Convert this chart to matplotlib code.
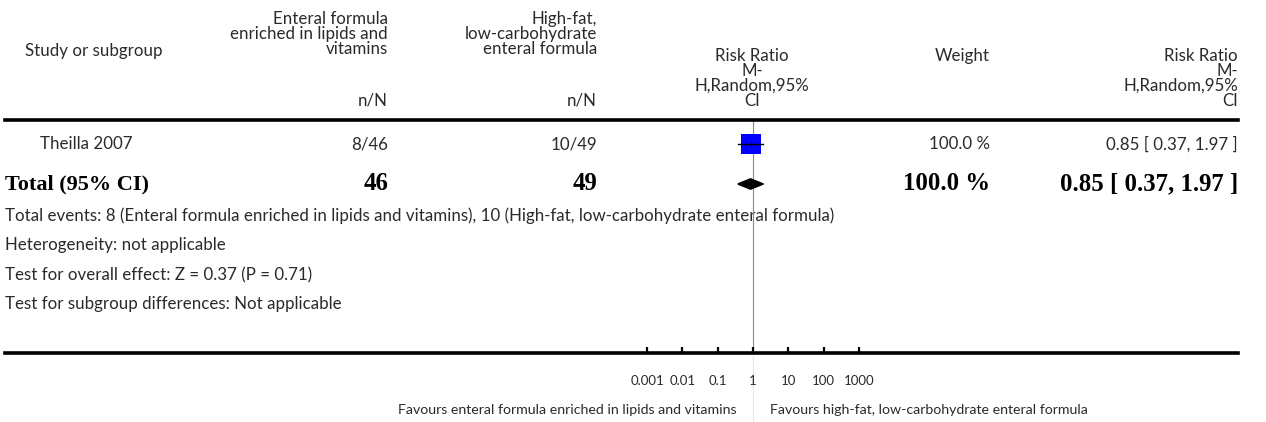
import matplotlib
matplotlib.use("Agg")
import matplotlib.pyplot as plt
import matplotlib.transforms as mtransforms
import numpy as np

# data
studies = ["Theilla 2007"]
exp_events = ["8/46"]
ctrl_events = ["10/49"]
weights = ["100.0 %"]
rr = [0.85]
ci_lo = [0.37]
ci_hi = [1.97]
total_exp = "46"
total_ctrl = "49"
total_weight = "100.0 %"
total_rr = 0.85
total_lo = 0.37
total_hi = 1.97
tick_vals = [0.001, 0.01, 0.1, 1, 10, 100, 1000]
tick_labels = ["0.001", "0.01", "0.1", "1", "10", "100", "1000"]
footnotes = [
    "Total events: 8 (Enteral formula enriched in lipids and vitamins), 10 (High-fat, low-carbohydrate enteral formula)",
    "Heterogeneity: not applicable",
    "Test for overall effect: Z = 0.37 (P = 0.71)",
    "Test for subgroup differences: Not applicable",
]
fav_left = "Favours enteral formula enriched in lipids and vitamins"
fav_right = "Favours high-fat, low-carbohydrate enteral formula"
exp_head = ["Enteral formula", "enriched in lipids and", "vitamins"]
ctrl_head = ["High-fat,", "low-carbohydrate", "enteral formula"]
rr_head = ["Risk Ratio", "M-", "H,Random,95%", "CI"]

W, H = 1266, 422
SANS = "Lato"
SERIF = "Liberation Serif"
TXT = "#2a2a2a"
fs = 12.2
fs_b = 16
fs_n = 17.8
fs_s = 10.2
fs_t = 9.5

fig = plt.figure(figsize=(W / 100, H / 100), dpi=100)
bg = fig.add_axes([0, 0, 1, 1])
bg.set_xlim(0, W)
bg.set_ylim(H, 0)
bg.axis("off")

# forest panel: 1 at x=753px, one decade = 35.3px
x0, x1, ytop, ybot = 5, 1238, 120, 353
dec = 35.3
ax = fig.add_axes([x0 / W, (H - ybot) / H, (x1 - x0) / W, (ybot - ytop) / H])
ax.patch.set_alpha(0)
ax.set_xscale("log")
ax.set_xlim(10 ** ((x0 - 753) / dec), 10 ** ((x1 - 753) / dec))
row_px = 40
ax.set_ylim((ybot - 144) / row_px, (ytop - 144) / row_px)
for s in ["left", "right"]:
    ax.spines[s].set_visible(False)
ax.spines["top"].set_linewidth(2.6)
ax.spines["bottom"].set_linewidth(2.6)
ax.set_yticks([])
ax.set_xticks(tick_vals)
ax.set_xticklabels(tick_labels, fontfamily=SANS, fontsize=fs_t, color=TXT)
ax.xaxis.set_minor_locator(matplotlib.ticker.NullLocator())
ax.tick_params(axis="x", direction="in", length=4.5, width=1.6, pad=16)

ax.axvline(1, color="#8a8a8a", lw=0.8, zorder=1)
bg.plot([753, 753], [356, H], color="#e6e6e6", lw=0.8)

# study rows
for i in range(len(studies)):
    ax.plot([ci_lo[i], ci_hi[i]], [i, i], color="black", lw=1, zorder=4)
    ax.plot(rr[i], i, "s", color="#0000ff", markersize=14.5, markeredgewidth=0, zorder=3)
    ax.plot(rr[i], i, "|", color="black", markersize=4, markeredgewidth=0.8, zorder=5)

# total diamond
ty = len(studies)
ax.fill([total_lo, total_rr, total_hi, total_rr], [ty, ty - 0.13, ty, ty + 0.13],
        color="black", zorder=4)

# table text, x in px, y in rows
tr = mtransforms.blended_transform_factory(bg.transData, ax.transData)
for i in range(len(studies)):
    kw = dict(transform=tr, va="center", fontfamily=SANS, fontsize=fs, color=TXT)
    bg.text(40, i, studies[i], ha="left", **kw)
    bg.text(388, i, exp_events[i], ha="right", **kw)
    bg.text(597, i, ctrl_events[i], ha="right", **kw)
    bg.text(990, i, weights[i], ha="right", **kw)
    bg.text(1238, i, "%.2f [ %.2f, %.2f ]" % (rr[i], ci_lo[i], ci_hi[i]), ha="right", **kw)

kb = dict(transform=tr, va="center", fontfamily=SERIF, fontweight="bold", color="black")
bg.text(5, ty, "Total (95% CI)", ha="left", fontsize=fs_b, **kb)
bg.text(388, ty, total_exp, ha="right", fontsize=fs_n, **kb)
bg.text(597, ty, total_ctrl, ha="right", fontsize=fs_n, **kb)
bg.text(990, ty, total_weight, ha="right", fontsize=fs_n, **kb)
bg.text(1238, ty, "%.2f [ %.2f, %.2f ]" % (total_rr, total_lo, total_hi), ha="right",
        fontsize=fs_n, **kb)

# header
kh = dict(va="center", fontfamily=SANS, fontsize=fs, color=TXT)
bg.text(25, 51, "Study or subgroup", ha="left", **kh)
for j, (a, b) in enumerate(zip(exp_head, ctrl_head)):
    bg.text(388, 19 + 15 * j, a, ha="right", **kh)
    bg.text(597, 19 + 15 * j, b, ha="right", **kh)
bg.text(388, 101, "n/N", ha="right", **kh)
bg.text(597, 101, "n/N", ha="right", **kh)
for j, t in enumerate(rr_head):
    bg.text(752, 56 + 15 * j, t, ha="center", **kh)
    bg.text(1238, 56 + 15 * j, t, ha="right", **kh)
bg.text(990, 56, "Weight", ha="right", **kh)

# footnotes
for yy, t in zip([216, 245, 275, 304], footnotes):
    bg.text(5, yy, t, ha="left", va="center", fontfamily=SANS, fontsize=fs, color=TXT)

bg.text(736, 410, fav_left, ha="right", va="center", fontfamily=SANS, fontsize=fs_s, color=TXT)
bg.text(770, 410, fav_right, ha="left", va="center", fontfamily=SANS, fontsize=fs_s, color=TXT)

fig.savefig("out.png", dpi=100)
